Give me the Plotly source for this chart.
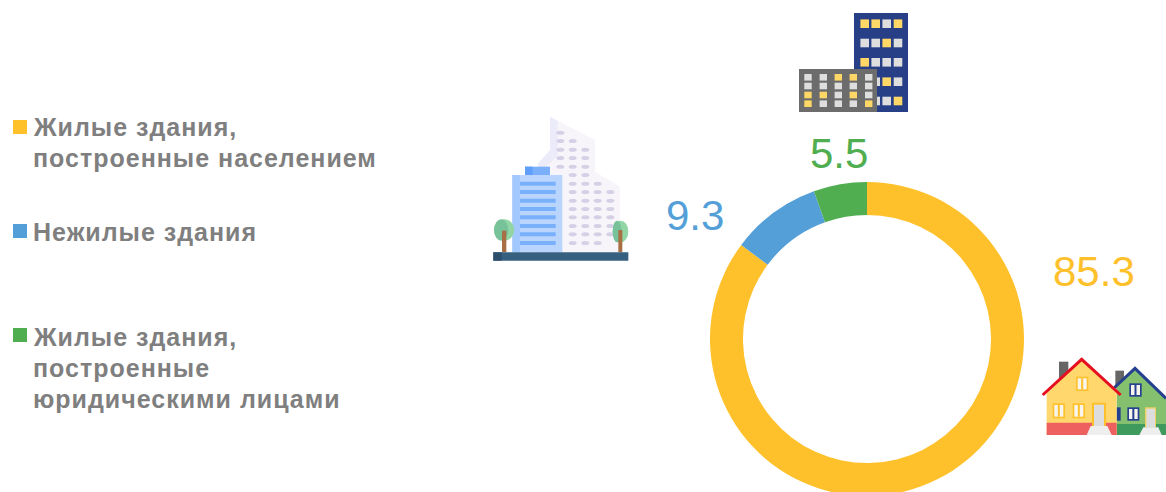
import plotly.graph_objects as go

categories = ["Жилые здания, построенные населением", "Нежилые здания", "Жилые здания, построенные юридическими лицами"]
values = [85.3, 9.3, 5.5]
colors = ["#FFC12B", "#549FD8", "#50AE50"]
legend_lines = [["Жилые здания,", "построенные населением"], ["Нежилые здания"],
                ["Жилые здания,", "построенные", "юридическими лицами"]]

W, H = 1166, 496
def px(x): return x / W
def py(y): return 1 - y / H

shapes = []
def rect(x0, y0, x1, y1, fill, line=None, lw=0):
    shapes.append(dict(type="rect", xref="paper", yref="paper", x0=px(x0), x1=px(x1), y0=py(y1), y1=py(y0),
                       fillcolor=fill, line=dict(color=line or fill, width=lw), layer="above"))
def ell(x0, y0, x1, y1, fill):
    shapes.append(dict(type="circle", xref="paper", yref="paper", x0=px(x0), x1=px(x1), y0=py(y1), y1=py(y0),
                       fillcolor=fill, line=dict(width=0), layer="above"))
def poly(pts, fill=None, line=None, lw=0, close=True):
    d = "M " + " L ".join(f"{px(x):.5f} {py(y):.5f}" for x, y in pts) + (" Z" if close else "")
    shapes.append(dict(type="path", xref="paper", yref="paper", path=d, fillcolor=fill or "rgba(0,0,0,0)",
                       line=dict(color=line or "rgba(0,0,0,0)", width=lw), layer="above"))

# ---- icon: office blocks (top)
Y, G = "#FFD766", "#DEDEDE"
rect(854, 13, 908, 112, "#263F86")
cols = [864.7, 875.7, 886.7, 898]
rows = [23.7, 43, 62.3, 81.7, 101]
grid = ["YYGY", "GGYG", "YGGG", "GGYG", "GGGY"]
for r, g in zip(rows, grid):
    for c, k in zip(cols, g):
        rect(c - 4.3, r - 4.3, c + 4.3, r + 4.3, Y if k == "Y" else G)
rect(799, 69, 877, 112, "#6C6C6C")
cols = [808, 823.3, 838.3, 853.3, 868.7]
rows = [77.3, 86, 95, 103.7]
grid = ["GGYYG", "GGGGG", "YYGYG", "YGGGY"]
for r, g in zip(rows, grid):
    for c, k in zip(cols, g):
        rect(c - 3.7, r - 3.3, c + 3.7, r + 3.3, Y if k == "Y" else G)

# ---- icon: tower (left), coordinates from a 3x view
def zl(x, y): return (480 + x / 3, y / 3)
poly([zl(*p) for p in [(210, 350), (345, 420), (345, 515), (420, 560), (420, 757), (175, 757), (175, 490), (210, 450)]], "#F7F5F9")
poly([zl(*p) for p in [(210, 350), (233, 362), (233, 465), (200, 500), (200, 525), (175, 525), (175, 490), (210, 450)]], "#ECEBFA")
wrows = {398: [241], 423: [241, 278], 449: [241, 278, 316], 474: [241, 278, 316], 500: [241, 278, 316], 525: [278, 316],
         551: [278, 316, 353], 576: [278, 316, 353, 391], 602: [278, 316, 353, 391], 627: [278, 316, 353, 391],
         652: [278, 316, 353, 391], 678: [278, 316, 353, 391], 703: [278, 316, 353, 391], 729: [278, 316, 353]}
for zy, xs in wrows.items():
    for zx in xs:
        a, b = zl(zx - 12, zy - 6), zl(zx + 12, zy + 6)
        ell(a[0], a[1], b[0], b[1], "#D6D0E6")
def zrect(x0, y0, x1, y1, c):
    a, b = zl(x0, y0), zl(x1, y1)
    rect(a[0], a[1], b[0], b[1], c)
zrect(135, 500, 210, 525, "#7AB0FB")
zrect(135, 500, 158, 525, "#5F9FFA")
zrect(97, 525, 247, 757, "#B9D5FD")
zrect(97, 525, 120, 757, "#A3C8FD")
for zy in [551, 576, 602, 627, 652, 678, 703, 729]:
    zrect(120, zy - 6, 227, zy + 6, "#78B0FC")
a, b = zl(42, 658), zl(103, 722); ell(a[0], a[1], b[0], b[1], "#92D6A6")
a, b = zl(42, 658), zl(85, 722); ell(a[0], a[1], b[0], b[1], "#78C29A")
a, b = zl(398, 662), zl(445, 727); ell(a[0], a[1], b[0], b[1], "#92D6A6")
a, b = zl(398, 662), zl(425, 727); ell(a[0], a[1], b[0], b[1], "#78C29A")
zrect(66, 692, 79, 757, "#A86F45")
zrect(415, 690, 427, 757, "#A86F45")
zrect(40, 757, 445, 782, "#365F80")
zrect(40, 757, 65, 782, "#2C4E6B")

# ---- icon: houses (bottom right), coordinates from a 3x view
def zh(x, y): return (1030 + x / 3, 350 + y / 3)
def hrect(x0, y0, x1, y1, c):
    a, b = zh(x0, y0), zh(x1, y1)
    rect(a[0], a[1], b[0], b[1], c)
def window(x0, y0, x1, y1, frame):
    hrect(x0, y0, x1, y1, frame)
    hrect(x0 + 5, y0 + 5, x1 - 5, y1 - 5, "#F7F5EE")
    m = (x0 + x1) / 2
    hrect(m - 3, y0 + 5, m + 3, y1 - 5, frame)
def steps(x0, x1, xt0, xt1, yt, yb):
    poly([zh(xt0, yt), zh(xt1, yt), zh(x1, yb), zh(x0, yb)], "#EEEEEE")

hrect(256, 62, 282, 115, "#666666")
poly([zh(*p) for p in [(260, 110), (315, 55), (408, 145), (408, 255), (260, 255)]], "#85C06E")
hrect(260, 222, 408, 255, "#3F9A5E")
poly([zh(*p) for p in [(252, 114), (315, 55), (408, 145)]], None, "#25408F", 3, close=False)
for w in [(298, 100, 335, 140), (292, 172, 328, 212), (260, 172, 272, 212)]:
    window(*w, "#25408F")
hrect(345, 172, 378, 232, "#F0D060")
hrect(349, 176, 375, 232, "#DDDDDD")
steps(328, 395, 340, 385, 232, 255)
hrect(87, 35, 115, 85, "#666666")
poly([zh(*p) for p in [(50, 130), (155, 30), (260, 130), (260, 255), (50, 255)]], "#FFD76D")
hrect(50, 218, 260, 255, "#EE6060")
poly([zh(*p) for p in [(38, 135), (155, 28), (272, 135)]], None, "#E60F1F", 3, close=False)
for w in [(138, 80, 175, 123), (68, 160, 105, 205), (128, 160, 165, 205)]:
    window(*w, "#FFC12B")
hrect(186, 158, 228, 228, "#FFC12B")
hrect(192, 164, 222, 228, "#DDDDDD")
steps(170, 245, 182, 232, 228, 255)

# ---- legend
annotations = []
legend_y = [[126.5, 157.5], [231.5], [336.5, 367.5, 398.5]]
swatch_y = [127, 231, 335]
for lines, ys, sy, c in zip(legend_lines, legend_y, swatch_y, colors):
    rect(13, sy - 7, 27, sy + 7, c)
    for t, y in zip(lines, ys):
        annotations.append(dict(text=f'<span style="letter-spacing:1px"><b>{t}</b></span>', x=px(31), y=py(y),
                                xref="paper", yref="paper", xanchor="left", yanchor="middle", showarrow=False,
                                font=dict(family="Liberation Sans", size=25, color="#7F7F7F")))

# ---- data labels
label_pos = [(1094, 271), (695, 215), (839, 153)]
for v, c, (x, y) in zip(values, colors, label_pos):
    annotations.append(dict(text=f"{v}", x=px(x), y=py(y), xref="paper", yref="paper", xanchor="center", yanchor="middle",
                            showarrow=False, font=dict(family="Liberation Sans", size=42, color=c)))

fig = go.Figure(go.Pie(labels=categories, values=values, marker=dict(colors=colors, line=dict(width=0)),
                       hole=0.79, sort=False, direction="clockwise", rotation=0, textinfo="none", showlegend=False,
                       domain=dict(x=[710 / W, 1024 / W], y=[0, 1 - 182 / H])))
fig.update_layout(width=W, height=H, margin=dict(l=0, r=0, t=0, b=0), paper_bgcolor="white", showlegend=False,
                  shapes=shapes, annotations=annotations)
fig.write_html("out.html", config=dict(displayModeBar=False),
               post_script="document.body.style.margin='0';document.documentElement.style.overflow='hidden';document.body.style.overflow='hidden';")
